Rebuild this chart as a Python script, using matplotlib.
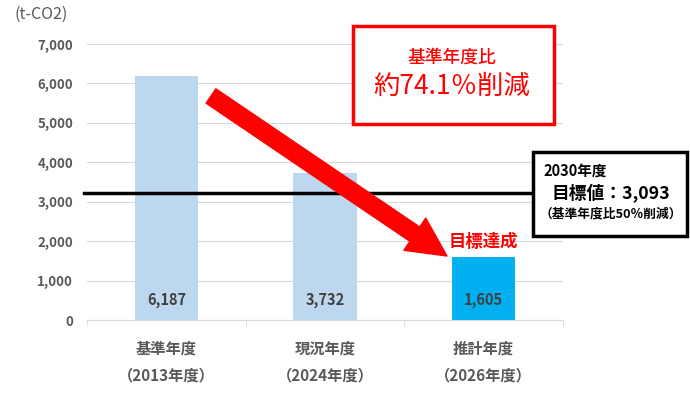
import matplotlib
matplotlib.use("Agg")
import matplotlib.pyplot as plt
from matplotlib.patches import Rectangle

plt.rcParams['font.family'] = ['Noto Sans CJK JP', 'DejaVu Sans']

# データ
categories = ['基準年度\n（2013年度）', '現況年度\n（2024年度）', '推計年度\n（2026年度）']
values = [6187, 3732, 1605]
bar_colors = ['#BDD7EE', '#BDD7EE', '#00B0F0']
target_line = 3230   # 図上の目標線の位置
target_label = '目標値：3,093'
yticks = [0, 1000, 2000, 3000, 4000, 5000, 6000, 7000]

W, H = 690, 395
fig = plt.figure(figsize=(6.9, 3.95), dpi=100)
ax = fig.add_axes([87 / W, 1 - 320 / H, 476 / W, 276 / H])

x = range(len(values))
ax.bar(x, values, width=0.4, color=bar_colors, zorder=2)

for i, v in enumerate(values):
    ax.text(i, 500, f'{v:,}', ha='center', va='center', fontsize=10.5,
            fontweight='bold', color='#404040', zorder=3)

ax.set_xlim(-0.5, 2.5)
ax.set_ylim(0, 7000)
ax.set_yticks(yticks)
ax.set_yticklabels([f'{t:,}' for t in yticks])
ax.grid(axis='y', color='#d9d9d9', lw=0.8, zorder=0)
ax.set_axisbelow(True)
for s in ['top', 'right', 'left']:
    ax.spines[s].set_visible(False)
ax.spines['bottom'].set_color('#d9d9d9')
ax.tick_params(axis='y', length=0, pad=10, labelsize=9.5, labelcolor='#595959')
for lab in ax.get_yticklabels():
    lab.set_fontweight('bold')

ax.set_xticks(list(x))
ax.set_xticklabels(categories, fontsize=11, fontweight='bold', color='#595959',
                   linespacing=1.8)
ax.tick_params(axis='x', length=0, pad=15)
ax.set_xticks([-0.5, 0.5, 1.5, 2.5], minor=True)
ax.tick_params(axis='x', which='minor', length=4, color='#d9d9d9')

# 目標線
ax.axhline(target_line, xmin=-0.007, xmax=1, color='black', lw=2.5,
           clip_on=False, zorder=4)

fig.text(41 / W, 1 - 14 / H, '(t-CO2)', ha='center', va='center',
         fontsize=11.5, color='#595959')

# 矢印
ax.annotate('', xy=(447, H - 256), xycoords='figure pixels',
            xytext=(211, H - 96), textcoords='figure pixels',
            arrowprops=dict(arrowstyle='simple,head_length=2.8,head_width=2.8,tail_width=1.25',
                            color='#FF0000', mutation_scale=10, shrinkA=0, shrinkB=0),
            zorder=5)

ax.annotate('目標達成', xy=(2, 1605), xytext=(0, 4), textcoords='offset points',
            ha='center', va='bottom', fontsize=12.5, fontweight='bold',
            color='#FF0000', zorder=5)

# 赤枠
fig.patches.append(Rectangle((353 / W, 1 - 124 / H), 201 / W, 98 / H,
                             transform=fig.transFigure, facecolor='white',
                             edgecolor='#FF0000', lw=2.5, zorder=6))
fig.text(452 / W, 1 - 58 / H, '基準年度比', ha='center', va='center',
         fontsize=12.8, fontweight='medium', color='#FF0000', zorder=7)
fig.text(452 / W, 1 - 86 / H, '約74.1％削減', ha='center', va='center',
         fontsize=19, color='#FF0000', zorder=7)

# 黒枠
fig.patches.append(Rectangle((533 / W, 1 - 236 / H), 154 / W, 84 / H,
                             transform=fig.transFigure, facecolor='white',
                             edgecolor='black', lw=2.5, zorder=6))
fig.text(543 / W, 1 - 171 / H, '2030年度', ha='left', va='center',
         fontsize=10.5, fontweight='bold', color='black', zorder=7)
fig.text(611 / W, 1 - 193 / H, target_label, ha='center', va='center',
         fontsize=12.8, fontweight='bold', color='black', zorder=7)
fig.text(611 / W, 1 - 214 / H, '（基準年度比50％削減）', ha='center', va='center',
         fontsize=9.2, fontweight='bold', color='black', zorder=7)

fig.savefig('out.png', dpi=100)
